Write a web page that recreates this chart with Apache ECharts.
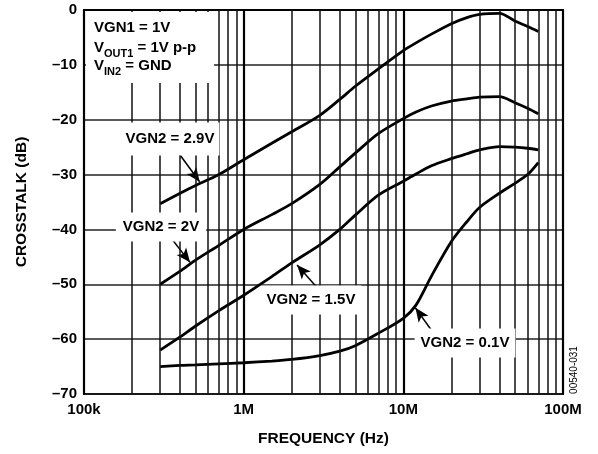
<!DOCTYPE html>
<html>
<head>
<meta charset="utf-8">
<script src="https://cdn.jsdelivr.net/npm/echarts@6/dist/echarts.min.js"></script>
<style>
html,body{margin:0;padding:0;background:#fff;}
#c{width:598px;height:454px;}
</style>
</head>
<body>
<div id="c"></div>
<script>
// Frequencies (Hz)
var freq = [3e5, 4e5, 5e5, 7e5, 1e6, 1.5e6, 2e6, 3e6, 4e6, 5e6, 7e6, 1e7, 1.2e7, 1.5e7, 2e7, 2.5e7, 3e7, 4e7, 5e7, 6e7, 7e7];
// Crosstalk (dB)
var vgn29 = [-35.3, -33.4, -32.0, -30.0, -27.3, -24.3, -22.2, -19.2, -16.3, -13.9, -10.7, -7.4, -6.0, -4.4, -2.5, -1.4, -0.8, -0.6, -2.0, -3.0, -3.9];
var vgn20 = [-50.0, -47.6, -45.6, -42.9, -40.0, -37.3, -35.3, -31.8, -28.6, -26.1, -22.5, -19.8, -18.6, -17.5, -16.6, -16.2, -15.9, -15.8, -16.9, -17.9, -18.9];
var vgn15 = [-62.0, -59.6, -57.6, -54.8, -52.0, -48.6, -46.1, -42.8, -40.0, -37.4, -33.7, -31.2, -29.9, -28.4, -27.1, -26.2, -25.5, -24.9, -25.0, -25.2, -25.5];
var vgn01 = [-65.0, -64.8, -64.7, -64.5, -64.3, -64.0, -63.7, -63.0, -62.2, -61.2, -58.9, -56.2, -53.8, -48.5, -42.2, -38.6, -36.0, -33.4, -31.6, -30.0, -27.8];
var minorFreqs = [2e5,3e5,4e5,5e5,6e5,7e5,8e5,9e5,2e6,3e6,4e6,5e6,6e6,7e6,8e6,9e6,2e7,3e7,4e7,5e7,6e7,7e7,8e7,9e7];
var xTickLabels = {'100000':'100k','1000000':'1M','10000000':'10M','100000000':'100M'};
var seriesNames = ['VGN2 = 2.9V','VGN2 = 2V','VGN2 = 1.5V','VGN2 = 0.1V'];
// arrow endpoints [tailFreq, taildB, tipFreq, tipdB]
var arrows = [
  [3.72e5, -25.2, 5.3e5, -31.3],
  [3.31e5, -40.6, 4.61e5, -46.0],
  [2.88e6, -50.6, 2.16e6, -46.5],
  [1.52e7, -58.6, 1.19e7, -54.3]
];

var FONT = '"Liberation Sans", Arial, Helvetica, sans-serif';
var chart = echarts.init(document.getElementById('c'), null, {renderer:'canvas'});

function pairs(vals){ return freq.map(function(f,i){ return [f, vals[i]]; }); }
function arrowLine(a){
  return [{coord:[a[0],a[1]]},{coord:[a[2],a[3]]}];
}
var allVals = [vgn29, vgn20, vgn15, vgn01];
var series = allVals.map(function(v, i){
  return {
    name: seriesNames[i], type:'line', data: pairs(v), smooth: 0.3, showSymbol:false,
    lineStyle:{color:'#000', width:2.8}, z:3, animation:false,
    markLine:{
      silent:true, animation:false, symbol:['none','arrow'], symbolSize:[9, 14],
      label:{show:false}, lineStyle:{color:'#000', width:1.5, type:'solid'},
      data:[arrowLine(arrows[i])]
    }
  };
});
// minor vertical gridlines
series.push({
  type:'line', data:[], z:1, silent:true, animation:false,
  markLine:{
    silent:true, animation:false, symbol:['none','none'], label:{show:false},
    lineStyle:{color:'#111', width:1.5, type:'solid'},
    data: minorFreqs.map(function(f){ return {xAxis:f}; })
  }
});

function label(text, x, y, padV, padH){
  return {type:'text', z:100, x:x, y:y, style:{text:text, fill:'#000', font:'bold 15px '+FONT,
    align:'center', verticalAlign:'middle', backgroundColor:'#fff', padding:[padV, padH]}};
}

var option = {
  backgroundColor:'#fff',
  animation:false,
  grid:{left:84, right:35, top:10, bottom:60, show:true, borderColor:'#000', borderWidth:2},
  xAxis:{
    type:'log', logBase:10, min:1e5, max:1e8,
    name:'FREQUENCY (Hz)', nameLocation:'middle', nameGap:37,
    nameTextStyle:{fontFamily:FONT, fontWeight:'bold', fontSize:15.5, color:'#000'},
    axisLine:{show:true, lineStyle:{color:'#000', width:2}},
    axisTick:{show:false},
    axisLabel:{color:'#000', fontFamily:FONT, fontWeight:'bold', fontSize:15, margin:8,
      formatter:function(v){ return xTickLabels[String(Math.round(v))] || ''; }},
    splitLine:{show:true, lineStyle:{color:'#000', width:2.2}}
  },
  yAxis:{
    type:'value', min:-70, max:0, interval:10,
    name:'CROSSTALK (dB)', nameLocation:'middle', nameGap:54,
    nameTextStyle:{fontFamily:FONT, fontWeight:'bold', fontSize:15.5, color:'#000'},
    axisLine:{show:true, lineStyle:{color:'#000', width:2}},
    axisTick:{show:false},
    axisLabel:{color:'#000', fontFamily:FONT, fontWeight:'bold', fontSize:15, margin:7,
      formatter:function(v){ return v < 0 ? '\u2013' + (-v) : String(v); }},
    splitLine:{show:true, lineStyle:{color:'#222', width:1.5}}
  },
  series: series,
  graphic:[
    {type:'rect', z:99, shape:{x:86, y:12, width:128, height:71}, style:{fill:'#fff'}},
    {type:'text', z:100, x:94, y:28, style:{text:'VGN1 = 1V', fill:'#000', font:'bold 15px '+FONT, verticalAlign:'middle'}},
    {type:'text', z:100, x:94, y:40, style:{
      text:'{m|V}{s|OUT1}{m| = 1V p-p}', fill:'#000', verticalAlign:'top',
      rich:{ m:{font:'bold 15px '+FONT, fill:'#000', verticalAlign:'bottom', padding:[0,0,4,0]},
             s:{font:'bold 11px '+FONT, fill:'#000', verticalAlign:'bottom'} } }},
    {type:'text', z:100, x:94, y:58, style:{
      text:'{m|V}{s|IN2}{m| = GND}', fill:'#000', verticalAlign:'top',
      rich:{ m:{font:'bold 15px '+FONT, fill:'#000', verticalAlign:'bottom', padding:[0,0,4,0]},
             s:{font:'bold 11px '+FONT, fill:'#000', verticalAlign:'bottom'} } }},
    label(seriesNames[0], 170, 139, 9, 5),
    label(seriesNames[1], 161, 227, 7, 7),
    label(seriesNames[2], 311, 300, 7, 6),
    label(seriesNames[3], 465, 343, 7, 6),
    {type:'text', z:100, x:574, y:370, rotation:Math.PI/2,
      style:{text:'00540-031', fill:'#000', font:'10px '+FONT, align:'center', verticalAlign:'middle'}}
  ]
};
chart.setOption(option);
</script>
</body>
</html>
